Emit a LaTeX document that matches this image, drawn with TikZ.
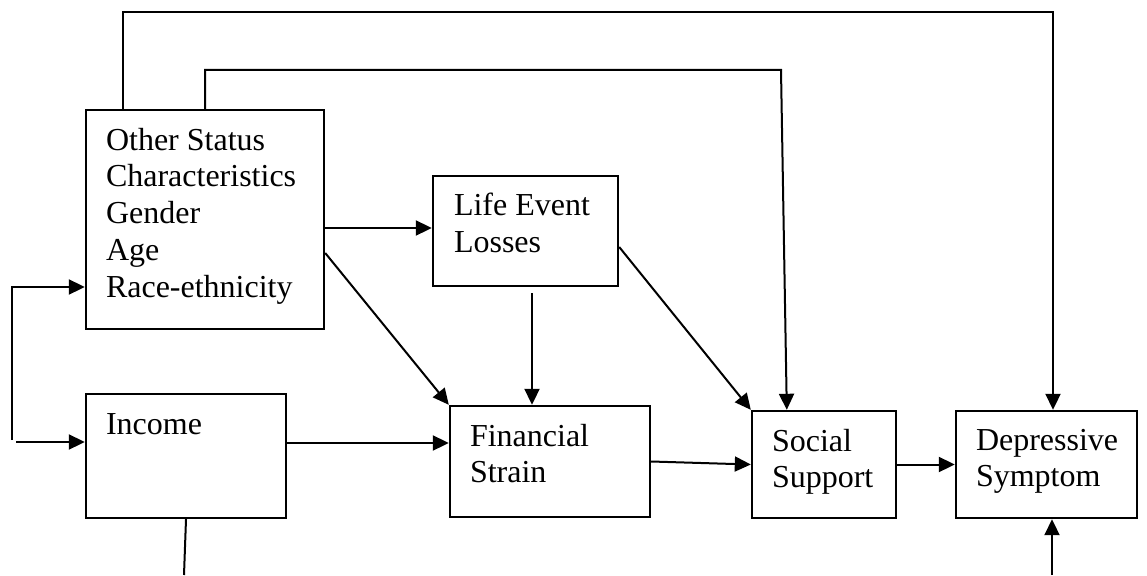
\documentclass[tikz,border=0pt]{standalone}
\usepackage{fontspec}
\setmainfont{Liberation Serif}
\usetikzlibrary{arrows.meta,positioning}

\begin{document}
\begin{tikzpicture}
  [
   x=1pt, y=-1pt,
   bx/.style={rectangle,draw,line width=2.4pt,inner sep=0pt},
   tx/.style={anchor=north west,align=left,inner sep=0pt,
              font=\fontsize{32}{36.7}\selectfont},
   ln/.style={line width=2pt},
   ar/.style={line width=2pt,-{Triangle[length=16pt,width=15pt]}}
  ]
   \useasboundingbox (0,0) rectangle (1147,575);

   % boxes
   \node[bx,minimum width=238,minimum height=219] (other)  at (205,219.5) {};
   \node[bx,minimum width=185,minimum height=110] (life)   at (525.5,231) {};
   \node[bx,minimum width=200,minimum height=124] (income) at (186,456) {};
   \node[bx,minimum width=200,minimum height=111] (fin)    at (550,461.5) {};
   \node[bx,minimum width=144,minimum height=107] (soc)    at (824,464.5) {};
   \node[bx,minimum width=181,minimum height=107] (dep)    at (1046.5,464.5) {};

   % texts
   \node[tx] (otherT)  at ([shift={(21pt,-19pt)}]other.north west)
      {Other Status\\Characteristics\\Gender\\Age\\Race-ethnicity};
   \node[tx] (lifeT)   at ([shift={(22pt,-18pt)}]life.north west) {Life Event\\Losses};
   \node[tx] (incomeT) at ([shift={(21pt,-21pt)}]income.north west) {Income};
   \node[tx] (finT)    at ([shift={(21pt,-19pt)}]fin.north west) {Financial\\Strain};
   \node[tx] (socT)    at ([shift={(21pt,-19pt)}]soc.north west) {Social\\Support};
   \node[tx] (depT)    at ([shift={(21pt,-19pt)}]dep.north west) {Depressive\\Symptom};

   % free ends
   \coordinate (topA) at (123,12);
   \coordinate (topC) at (1053,12);
   \coordinate (topB) at (205,70);
   \coordinate (topD) at (781,70);
   \coordinate (brT)  at (12,440);
   \coordinate (brB)  at (16,442);
   \coordinate (incEnd) at (184,575);
   \coordinate (depIn)  at (1052,575);

   \draw[ar] (other.north -| topA) -- (topA) -- (topC) -- (dep.north -| topC);
   \draw[ar] (other.north -| topB) -- (topB) -- (topD) -- ([xshift=36pt]soc.north west);
   \draw[ar] ([yshift=-8.5pt]other.east) -- ([yshift=3pt]life.west);
   \draw[ar] ([yshift=-33.5pt]other.east) -- (fin.north west);
   \draw[ar] ([xshift=6.5pt,yshift=-6pt]life.south) -- ([xshift=-18pt]fin.north);
   \draw[ar] ([yshift=-16pt]life.east) -- (soc.north west);
   \draw[ar] ([yshift=13pt]income.east) -- ([yshift=18.5pt]fin.west);
   \draw[ar] (fin.east) -- (soc.west);
   \draw[ar] (soc.east) -- (dep.west);
   \draw[ar] (brT) |- ([yshift=-67.5pt]other.west);
   \draw[ar] (brB) -- (income.west |- brB);
   \draw[ln] (income.south) -- (incEnd);
   \draw[ar] (depIn) -- (dep.south -| depIn);

\end{tikzpicture}
\end{document}
